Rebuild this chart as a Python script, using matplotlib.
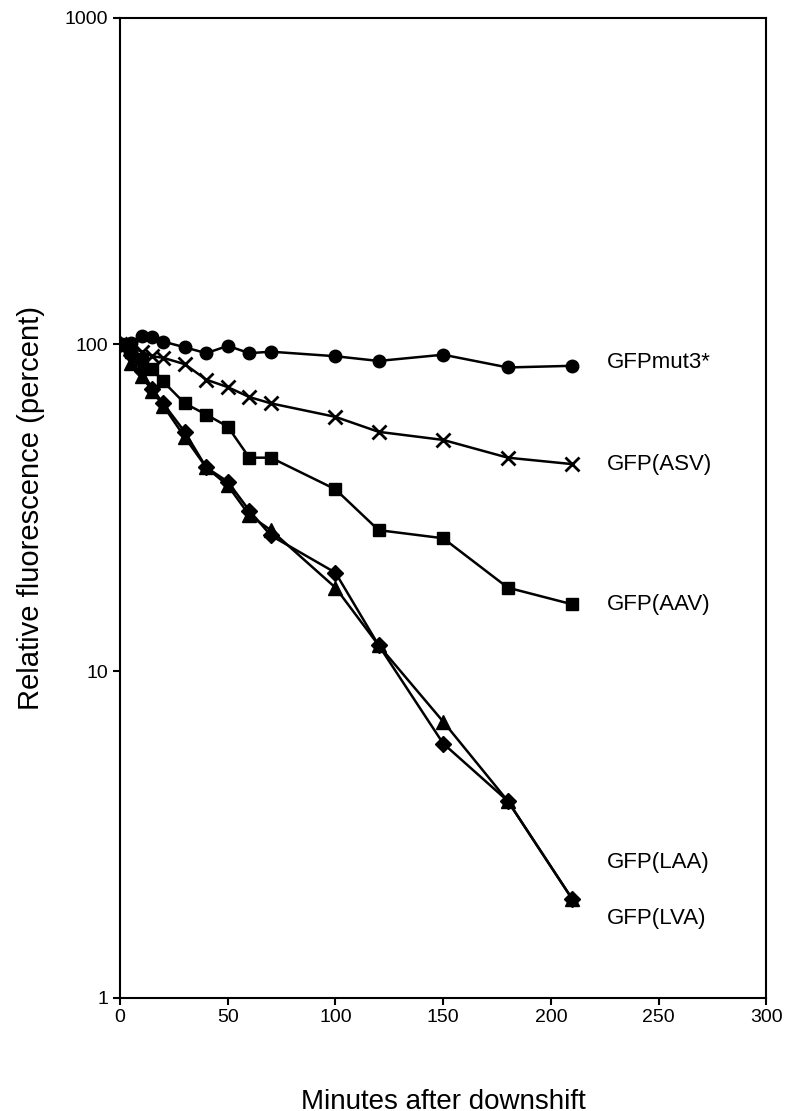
import matplotlib
matplotlib.use("Agg")
import matplotlib.pyplot as plt
from matplotlib.ticker import FixedLocator, NullLocator

t = [0, 5, 10, 15, 20, 30, 40, 50, 60, 70, 100, 120, 150, 180, 210]
mut3 = [100, 101, 106, 105, 102, 98, 94, 99, 94, 95, 92, 89, 93, 85, 86]
asv = [100, 98, 95, 92, 91, 87, 78, 74, 69, 66, 60, 54, 51, 45, 43]
aav = [100, 95, 90, 84, 77, 66, 61, 56, 45, 45, 36, 27, 25.5, 18, 16]
laa = [100, 93, 83, 73, 66, 54, 42, 38, 31, 26, 20, 12, 6, 4, 2]
lva = [100, 88, 80, 72, 65, 52, 42, 37, 30, 27, 18, 12, 7, 4, 2]
labels = ["GFPmut3*", "GFP(ASV)", "GFP(AAV)", "GFP(LAA)", "GFP(LVA)"]
label_y = [88, 43, 16, 2.6, 1.75]

fig = plt.figure(figsize=(7.9, 11.11), dpi=100)
ax = fig.add_axes([0.152, 0.102, 0.818, 0.882])
kw = dict(color="black", lw=1.8)
ax.plot(t, mut3, marker="o", ms=9, **kw)
ax.plot(t, asv, marker="x", ms=10, mew=2, **kw)
ax.plot(t, aav, marker="s", ms=9, **kw)
ax.plot(t, laa, marker="D", ms=8, **kw)
ax.plot(t, lva, marker="^", ms=10, **kw)
for lab, yv in zip(labels, label_y):
    ax.text(226, yv, lab, fontsize=16, va="center", ha="left", family="Liberation Sans")
ax.set_yscale("log")
ax.set_ylim(1, 1000)
ax.set_xlim(0, 300)
ax.yaxis.set_major_locator(FixedLocator([1, 10, 100, 1000]))
ax.yaxis.set_minor_locator(NullLocator())
ax.set_yticklabels(["1", "10", "100", "1000"])
ax.set_xticks(range(0, 301, 50))
for s in ax.spines.values():
    s.set_linewidth(1.5)
ax.tick_params(labelsize=14, width=1.5, length=5)
for l in ax.get_xticklabels() + ax.get_yticklabels():
    l.set_family("Liberation Sans")
ax.set_xlabel("Minutes after downshift", fontsize=20, labelpad=45, family="Liberation Sans")
ax.set_ylabel("Relative fluorescence (percent)", fontsize=21, labelpad=14, family="Liberation Sans")
fig.savefig("out.png", dpi=100, facecolor="white")
